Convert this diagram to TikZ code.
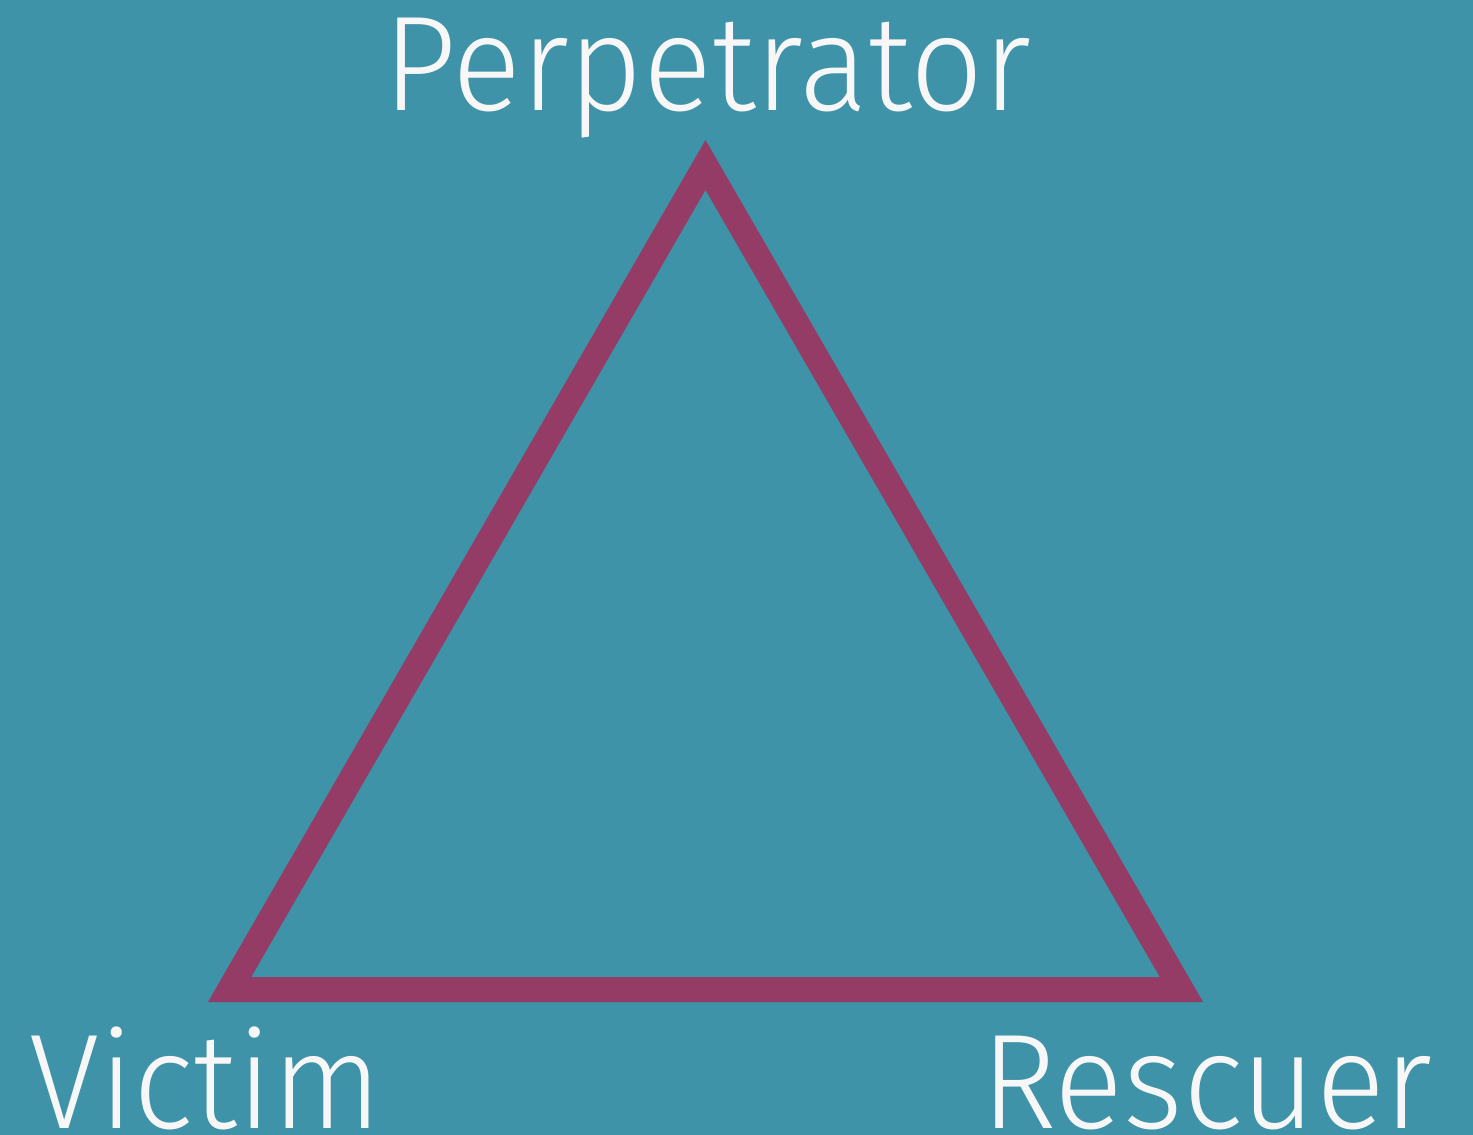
\documentclass[tikz,border=0pt]{standalone}
\usepackage{fontspec}
\newfontfamily\labfont{Fira Sans Light}[FakeStretch=0.95]
\definecolor{bgteal}{RGB}{62,147,168}
\definecolor{tripurple}{RGB}{148,60,102}
\definecolor{labwhite}{RGB}{247,247,247}
\begin{document}
\begin{tikzpicture}[x=0.5pt,y=-0.5pt,
  lab/.style={inner sep=0pt,outer sep=0pt,text=labwhite,font=\labfont\fontsize{67.5}{70}\selectfont,anchor=base west},
  tri/.style={draw=tripurple,line width=12.5pt,line join=miter}]
\fill[bgteal] (0,0) rectangle (1473,1135);
\useasboundingbox (0,0) rectangle (1473,1135);
\coordinate (top) at (705.5,165);
\coordinate (bl) at (229.6,989.5);
\coordinate (br) at (1181.4,989.5);
\draw[tri] (top) -- (bl) -- (br) -- cycle;
\node[lab] (perp) at (383,110) {Perpetrator};
\node[lab] (vic) at (29,1128) {Victim};
\node[lab] (res) at (981,1128) {Rescuer};
\end{tikzpicture}
\end{document}
